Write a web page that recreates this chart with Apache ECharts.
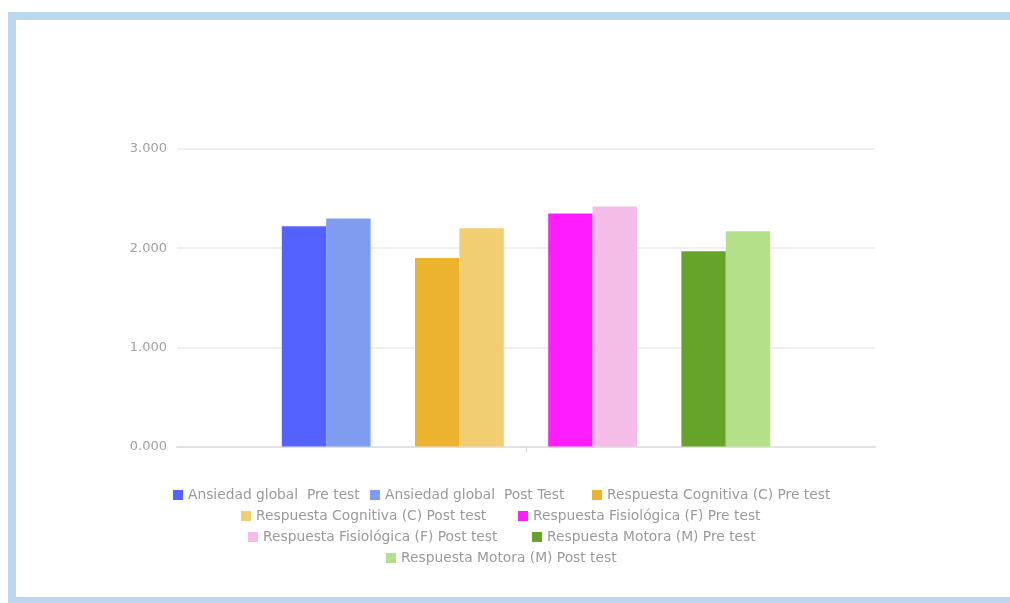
<!DOCTYPE html>
<html>
<head>
<meta charset="utf-8">
<script src="https://cdn.jsdelivr.net/npm/echarts@6/dist/echarts.min.js"></script>
<style>
  html, body { margin: 0; padding: 0; background: #ffffff; }
  #frame { position: absolute; left: 8px; top: 12px; width: 1010px; height: 577px;
           border-left: 8px solid #bdd7ee; border-top: 8px solid #bdd7ee; border-bottom: 8px solid #bdd7ee; }
  #chart { position: absolute; left: 0; top: 0; width: 1010px; height: 603px; }
</style>
</head>
<body>
<div id="frame"></div>
<div id="chart"></div>
<script>
const categories = [''];
const seriesNames = [
  'Ansiedad global  Pre test',
  'Ansiedad global  Post Test',
  'Respuesta Cognitiva (C) Pre test',
  'Respuesta Cognitiva (C) Post test',
  'Respuesta Fisiológica (F) Pre test',
  'Respuesta Fisiológica (F) Post test',
  'Respuesta Motora (M) Pre test',
  'Respuesta Motora (M) Post test'
];
const seriesValues = [2.22, 2.30, 1.90, 2.20, 2.35, 2.42, 1.97, 2.17];
const seriesColors = ['#5462ff', '#809cf0', '#ecb32e', '#f2ce72', '#ff1cff', '#f3bde8', '#65a32a', '#b3e088'];
const yMin = 0, yMax = 3, yInterval = 1;

// legend layout (position only)
const legendPos = [
  [173, 495], [370, 495], [592, 495],
  [241, 516], [518, 516],
  [248, 537], [532, 537],
  [386, 558]
];

const series = [];
seriesNames.forEach((name, i) => {
  series.push({
    name: name,
    type: 'bar',
    data: [seriesValues[i]],
    itemStyle: { color: seriesColors[i] },
    barWidth: 44.4,
    barGap: '0%'
  });
  if (i % 2 === 1 && i < seriesNames.length - 1) {
    series.push({ name: 'spacer' + i, type: 'bar', data: ['-'], barWidth: 44.4, barGap: '0%', silent: true });
  }
});

const legends = seriesNames.map((name, i) => ({
  data: [name],
  left: legendPos[i][0],
  top: legendPos[i][1] - 7,
  padding: 0,
  itemWidth: 10,
  itemHeight: 10,
  itemGap: 0,
  icon: 'rect',
  textStyle: { color: '#9a9a9a', fontSize: 13.8, fontFamily: 'DejaVu Sans', lineHeight: 14 }
}));

const chart = echarts.init(document.getElementById('chart'), null, { renderer: 'canvas' });
chart.setOption({
  animation: false,
  backgroundColor: 'transparent',
  grid: { left: 177, right: 135, top: 149, bottom: 156.5, containLabel: false },
  legend: legends,
  xAxis: {
    type: 'category',
    data: categories,
    axisLine: { lineStyle: { color: '#e2e2e2', width: 2 } },
    axisTick: { show: true, alignWithLabel: true, length: 6, lineStyle: { color: '#dddddd' } },
    axisLabel: { show: false }
  },
  yAxis: {
    type: 'value',
    min: yMin, max: yMax, interval: yInterval,
    axisLine: { show: false },
    axisTick: { show: false },
    splitLine: { lineStyle: { color: '#ebebeb', width: 1.5 } },
    axisLabel: {
      color: '#a0a0a0', fontSize: 13, fontFamily: 'DejaVu Sans', margin: 10,
      formatter: v => v.toFixed(3)
    }
  },
  series: series
});
</script>
</body>
</html>
